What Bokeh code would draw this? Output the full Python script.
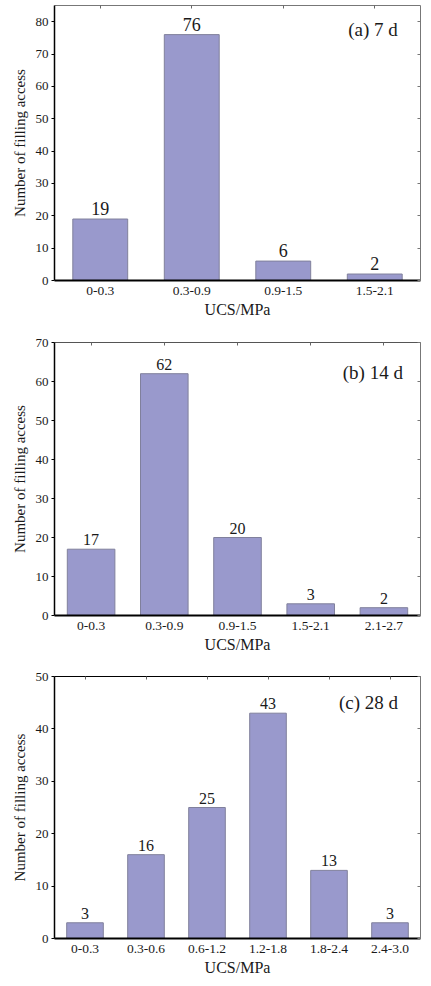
from bokeh.plotting import figure
from bokeh.models import FactorRange, Range1d, CategoricalAxis, LinearAxis, FixedTicker
from bokeh.layouts import column
from bokeh.core.properties import value
from bokeh.embed import file_html
from bokeh.resources import INLINE

# ---- data ----
cats_a = ["0-0.3", "0.3-0.9", "0.9-1.5", "1.5-2.1"]
vals_a = [19, 76, 6, 2]
cats_b = ["0-0.3", "0.3-0.9", "0.9-1.5", "1.5-2.1", "2.1-2.7"]
vals_b = [17, 62, 20, 3, 2]
cats_c = ["0-0.3", "0.3-0.6", "0.6-1.2", "1.2-1.8", "1.8-2.4", "2.4-3.0"]
vals_c = [3, 16, 25, 43, 13, 3]
titles = ["(a) 7 d", "(b) 14 d", "(c) 28 d"]
ymax = [85, 70, 50]
yticks_a = [0, 10, 20, 30, 40, 50, 60, 70, 80]
yticks_b = [0, 10, 20, 30, 40, 50, 60, 70]
yticks_c = [0, 10, 20, 30, 40, 50]

FONT = "Liberation Serif"
FILL = "#9999cc"
EDGE = "#80809c"
TXT = "#1a1a1a"


def panel(cats, vals, title, ytop, yticks, height, bl, br, bt, bb,
          bar_w, val_fs, title_fs, title_y, title_dx, top_col):
    p = figure(x_range=FactorRange(factors=cats), y_range=Range1d(0, ytop),
               width=423, height=height, output_backend="svg",
               toolbar_location=None, min_border_left=bl, min_border_right=br,
               min_border_top=bt, min_border_bottom=bb)
    p.outline_line_color = None
    p.xgrid.grid_line_color = None
    p.ygrid.grid_line_color = None
    p.background_fill_color = "white"
    p.border_fill_color = "white"

    p.vbar(x=cats, top=vals, width=bar_w, fill_color=FILL, line_color=EDGE,
           line_width=1)
    p.text(x=cats, y=vals, text=[str(v) for v in vals], text_align="center",
           text_baseline="bottom", y_offset=-4, text_font=value(FONT),
           text_font_size=f"{val_fs}px", text_color=TXT)
    p.text(x=[cats[-1]], y=[title_y], text=[title], x_offset=title_dx,
           text_align="right", text_baseline="middle", text_font=value(FONT),
           text_font_size=f"{title_fs}px", text_color=TXT)

    xa = p.xaxis[0]
    xa.axis_label = "UCS/MPa"
    xa.axis_label_text_font = FONT
    xa.axis_label_text_font_style = "normal"
    xa.axis_label_text_font_size = "16px"
    xa.axis_label_text_color = TXT
    xa.axis_label_standoff = 3
    xa.major_label_text_font = FONT
    xa.major_label_text_font_size = "13.5px"
    xa.major_label_text_color = TXT
    xa.major_label_standoff = 6
    xa.major_tick_line_color = None
    xa.major_tick_out = 0
    xa.major_tick_in = 0
    xa.axis_line_color = "black"
    xa.axis_line_width = 2

    ya = p.yaxis[0]
    ya.axis_label = "Number of filling access"
    ya.axis_label_text_font = FONT
    ya.axis_label_text_font_style = "normal"
    ya.axis_label_text_font_size = "15px"
    ya.axis_label_text_color = TXT
    ya.axis_label_standoff = 5
    ya.ticker = FixedTicker(ticks=yticks)
    ya.minor_tick_line_color = None
    ya.major_tick_out = 3
    ya.major_tick_in = 0
    ya.major_label_standoff = 3
    ya.major_label_text_font = FONT
    ya.major_label_text_font_size = "13px"
    ya.major_label_text_color = TXT
    ya.axis_line_color = "black"
    ya.axis_line_width = 1.5

    top = CategoricalAxis(major_tick_in=3, major_tick_out=0,
                          major_label_text_font_size="0px",
                          major_label_text_color=None,
                          major_label_standoff=0,
                          axis_line_color=top_col, major_tick_line_color="#666666")
    p.add_layout(top, "above")
    right = LinearAxis(ticker=FixedTicker(ticks=yticks), major_tick_in=3,
                       major_tick_out=0, minor_tick_line_color=None,
                       major_label_text_font_size="0px",
                       major_label_text_color=None, major_label_standoff=0,
                       axis_line_color="#777777", major_tick_line_color="#777777")
    p.add_layout(right, "right")
    return p


pa = panel(cats_a, vals_a, titles[0], ymax[0], yticks_a, 335, 50, 3, 5, 55,
           0.6, 18, 19, 77.5, 23, "#777777")
pb = panel(cats_b, vals_b, titles[1], ymax[1], yticks_b, 333, 54, 1, 7, 53,
           0.65, 16, 19, 62.3, 19, "#555555")
pc = panel(cats_c, vals_c, titles[2], ymax[2], yticks_c, 310, 49, 1, 8, 40,
           0.6, 16, 19, 45.1, 8, "black")

layout = column(pa, pb, pc, spacing=0)
open("out.html", "w").write(file_html(layout, INLINE))
